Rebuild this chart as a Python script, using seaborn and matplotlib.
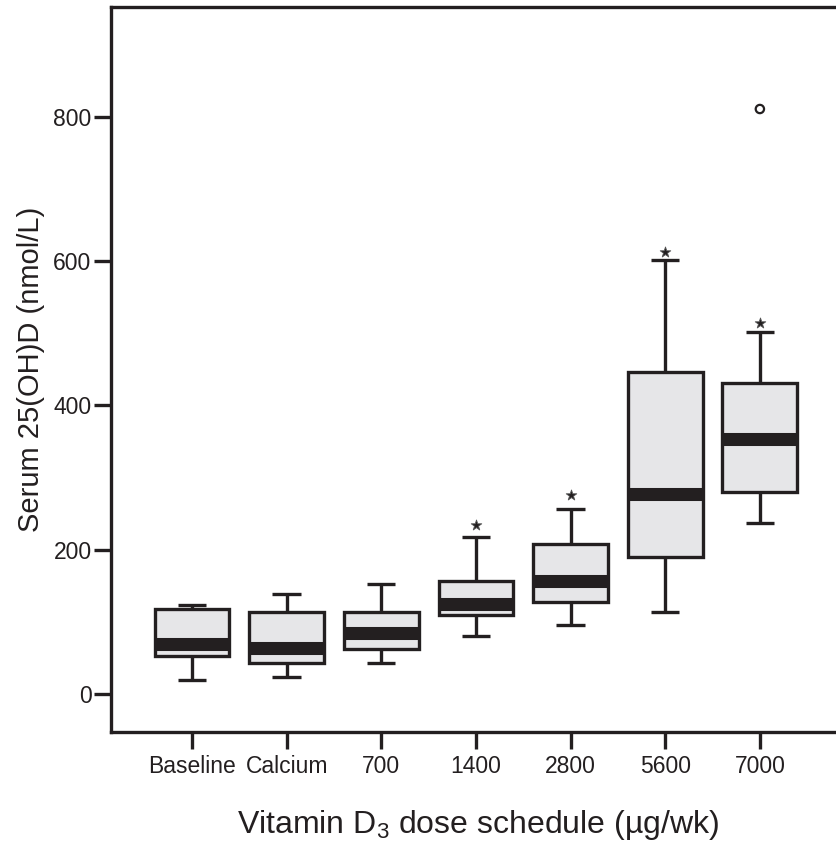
import matplotlib
matplotlib.use("Agg")
import matplotlib.pyplot as plt
import seaborn as sns
import pandas as pd

# ---- data ----
categories = ["Baseline", "Calcium", "700", "1400", "2800", "5600", "7000"]
whisker_low = [19, 24, 43, 81, 95, 114, 237]
quart_1 = [53, 43, 62, 110, 128, 190, 280]
medians = [69, 64, 85, 125, 156, 277, 353]
quart_3 = [118, 114, 114, 156, 208, 446, 431]
whisker_high = [123, 138, 152, 218, 256, 601, 502]

extreme_cats = ["1400", "2800", "5600", "7000"]
extreme_vals = [234, 276, 613, 514]
outlier_cats = ["7000"]
outlier_vals = [811]

y_ticks = [0, 200, 400, 600, 800]

# ---- build long table: 5 points per group reproduce the five-number summary ----
rows = []
for c, a, b, m, d, e in zip(categories, whisker_low, quart_1, medians, quart_3, whisker_high):
    for v in (a, b, m, d, e):
        rows.append({"group": c, "value": v})
df = pd.DataFrame(rows)
df_ext = pd.DataFrame({"group": extreme_cats, "value": extreme_vals})
df_out = pd.DataFrame({"group": outlier_cats, "value": outlier_vals})

sns.set_style("white")
plt.rcParams["font.family"] = ["Liberation Sans", "DejaVu Sans"]
plt.rcParams["mathtext.fontset"] = "custom"
plt.rcParams["mathtext.rm"] = "Liberation Sans"
plt.rcParams["mathtext.it"] = "Liberation Sans"

INK = "#231f20"
FILL = "#e6e6e8"

W, H = 836, 843
fig = plt.figure(figsize=(W / 100, H / 100), dpi=100)
ax = fig.add_axes([111 / W, (H - 732) / H, (846 - 111) / W, (732 - 7.3) / H])

sns.boxplot(
    data=df, x="group", y="value", order=categories, ax=ax,
    whis=(0, 100), width=0.79, showfliers=False,
    color=FILL, saturation=1, linewidth=2.4, linecolor=INK,
    boxprops=dict(facecolor=FILL, edgecolor=INK, linewidth=2.4),
    medianprops=dict(color=INK, linewidth=9.4, solid_capstyle="butt"),
    whiskerprops=dict(color=INK, linewidth=2.4),
    capprops=dict(color=INK, linewidth=2.4, solid_capstyle="butt"),
    capwidths=0.30,
)

sns.stripplot(data=df_ext, x="group", y="value", order=categories, ax=ax,
              jitter=False, marker="*", size=8, color=INK, linewidth=0.6,
              edgecolor="#555555", zorder=5)
sns.stripplot(data=df_out, x="group", y="value", order=categories, ax=ax,
              jitter=False, marker="o", size=6, color="none", linewidth=1.6,
              edgecolor=INK, zorder=5)

ax.set_xlim(-0.856, 6.91)
ax.set_ylim(-52.7, 952)
ax.set_yticks(y_ticks)
ax.set_yticklabels([str(t) for t in y_ticks])

for side in ("left", "top", "bottom", "right"):
    ax.spines[side].set_visible(True)
    ax.spines[side].set_color(INK)
    ax.spines[side].set_linewidth(2.4)

ax.tick_params(axis="both", direction="out", length=12.5, width=2.4,
               color=INK, labelcolor=INK, labelsize=16.5,
               bottom=True, left=True, top=False, right=False)
ax.tick_params(axis="x", pad=4)
ax.tick_params(axis="y", pad=1.5)

ax.set_xlabel("Vitamin D$_3$ dose schedule (\u00b5g/wk)", fontsize=23, color=INK, labelpad=22)
ax.set_ylabel("Serum 25(OH)D (nmol/L)", fontsize=21, color=INK, labelpad=6)

fig.savefig("out.png", dpi=100)
